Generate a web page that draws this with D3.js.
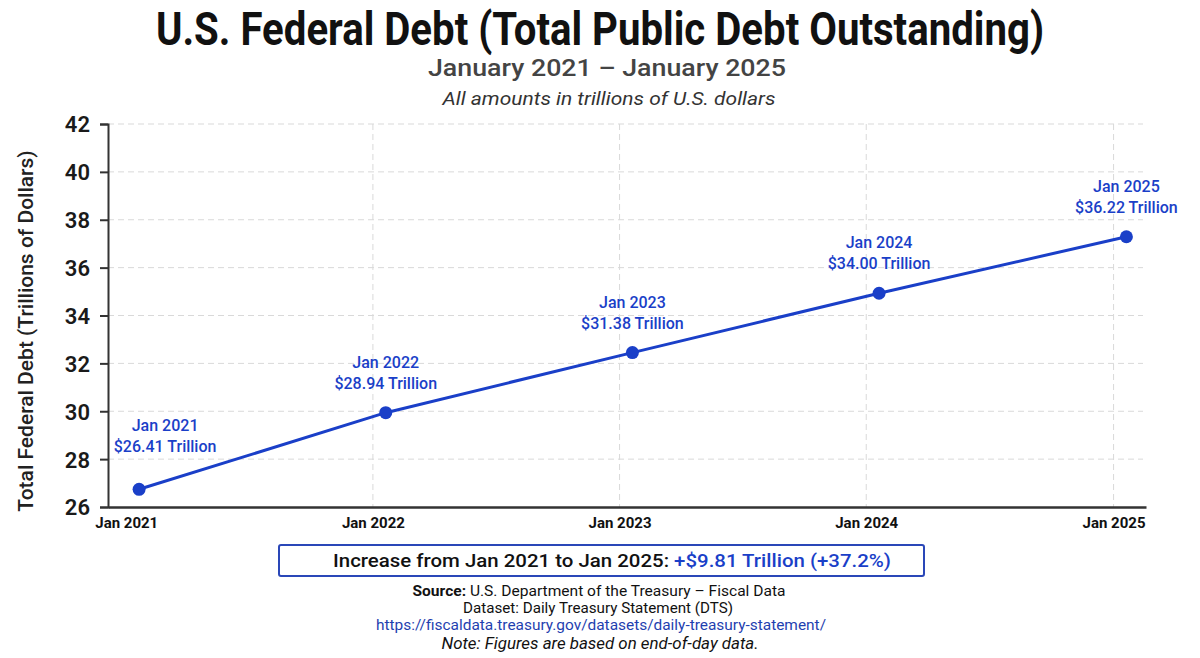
<!DOCTYPE html>
<html>
<head>
<meta charset="utf-8">
<script src="https://cdn.jsdelivr.net/npm/d3@7"></script>
<style>
  body { margin: 0; background: #fff; }
  svg { display: block; font-family: Roboto, "Noto Sans", sans-serif; }
</style>
</head>
<body>
<div id="chart-area"></div>
<script>
// data
var monthLabels = ["Jan 2021", "Jan 2022", "Jan 2023", "Jan 2024", "Jan 2025"];
var pointDates = ["2021-01-20", "2022-01-20", "2023-01-20", "2024-01-20", "2025-01-20"];
var debtPlotted = [26.74, 29.94, 32.45, 34.93, 37.29];   // where the dots sit
var debtLabels = [26.41, 28.94, 31.38, 34.00, 36.22];    // what the labels say
var tickDates = ["2021-01-01", "2022-01-01", "2023-01-01", "2024-01-01", "2025-01-01"];
var yTicks = [26, 28, 30, 32, 34, 36, 38, 40, 42];
var summaryParts = ["Increase from Jan 2021 to Jan 2025: ", "+$9.81 Trillion (+37.2%)"];

var W = 1200, H = 658;
var margin = { left: 108, right: 54, top: 124, bottom: 151 };
var blue = "#1a3fc8";
var parse = d3.timeParse("%Y-%m-%d");

var svg = d3.select("#chart-area").append("svg")
  .attr("width", W).attr("height", H);

// scales
var x = d3.scaleTime()
  .domain([parse("2020-12-05"), parse("2025-02-18")])
  .range([margin.left, W - margin.right]);
var y = d3.scaleLinear()
  .domain([26, 42])
  .range([H - margin.bottom, margin.top]);

var data = pointDates.map(function(d, i) {
  return { date: parse(d), v: debtPlotted[i], label: debtLabels[i], month: monthLabels[i] };
});

// titles
svg.append("text")
  .attr("x", 600).attr("y", 45)
  .attr("text-anchor", "middle")
  .attr("font-size", 46).attr("font-weight", 700)
  .attr("fill", "#111")
  .attr("textLength", 888).attr("lengthAdjust", "spacingAndGlyphs")
  .text("U.S. Federal Debt (Total Public Debt Outstanding)");

svg.append("text")
  .attr("x", 607).attr("y", 76)
  .attr("text-anchor", "middle")
  .attr("font-size", 24).attr("font-weight", 500)
  .attr("fill", "#444")
  .attr("textLength", 358).attr("lengthAdjust", "spacingAndGlyphs")
  .text("January 2021 \u2013 January 2025");

svg.append("text")
  .attr("x", 609).attr("y", 105)
  .attr("text-anchor", "middle")
  .attr("font-size", 18).attr("font-style", "italic")
  .attr("fill", "#333")
  .attr("textLength", 333).attr("lengthAdjust", "spacingAndGlyphs")
  .text("All amounts in trillions of U.S. dollars");

// grid
var grid = svg.append("g").attr("class", "grid");
grid.selectAll("line.h")
  .data(yTicks.filter(function(d) { return d > 26; }))
  .enter().append("line")
  .attr("class", "h")
  .attr("x1", margin.left).attr("x2", W - margin.right - 3)
  .attr("y1", function(d) { return y(d); })
  .attr("y2", function(d) { return y(d); })
  .attr("stroke", "#d9d9d9").attr("stroke-dasharray", "6,4");

grid.selectAll("line.v")
  .data(tickDates.slice(1))
  .enter().append("line")
  .attr("class", "v")
  .attr("x1", function(d) { return x(parse(d)); })
  .attr("x2", function(d) { return x(parse(d)); })
  .attr("y1", margin.top).attr("y2", H - margin.bottom)
  .attr("stroke", "#d9d9d9").attr("stroke-dasharray", "6,4");

// axes
var yAxis = svg.append("g")
  .attr("transform", "translate(" + margin.left + ",0)")
  .call(d3.axisLeft(y).tickValues(yTicks).tickSize(8).tickPadding(10));
yAxis.select(".domain").attr("stroke", "#333").attr("stroke-width", 2);
yAxis.selectAll(".tick line").attr("stroke", "#333").attr("stroke-width", 2);
yAxis.selectAll(".tick text")
  .attr("font-size", 22).attr("font-weight", 600)
  .attr("fill", "#1a1a1a").attr("font-family", "Roboto, sans-serif")
  .attr("dy", "0.36em");

var xAxis = svg.append("g")
  .attr("transform", "translate(0," + (H - margin.bottom) + ")")
  .call(d3.axisBottom(x)
    .tickValues(tickDates.map(parse))
    .tickSize(0).tickPadding(10)
    .tickFormat(d3.timeFormat("Jan %Y")));
xAxis.select(".domain").attr("stroke", "#333").attr("stroke-width", 2.5);
xAxis.selectAll(".tick text")
  .attr("font-size", 15).attr("font-weight", 700)
  .attr("fill", "#111").attr("font-family", "Roboto, sans-serif");

// y axis label
svg.append("text")
  .attr("transform", "translate(33,331) rotate(-90)")
  .attr("text-anchor", "middle")
  .attr("font-size", 21).attr("font-weight", 500)
  .attr("fill", "#222")
  .text("Total Federal Debt (Trillions of Dollars)");

// line + dots
var line = d3.line()
  .x(function(d) { return x(d.date); })
  .y(function(d) { return y(d.v); });

svg.append("path")
  .datum(data)
  .attr("d", line)
  .attr("fill", "none")
  .attr("stroke", blue)
  .attr("stroke-width", 3);

svg.selectAll("circle.pt")
  .data(data)
  .enter().append("circle")
  .attr("class", "pt")
  .attr("cx", function(d) { return x(d.date); })
  .attr("cy", function(d) { return y(d.v); })
  .attr("r", 6.5)
  .attr("fill", blue);

// point labels, the first one sits off to the right in the original
var fmt = d3.format(".2f");
var labels = svg.selectAll("g.lbl")
  .data(data)
  .enter().append("g")
  .attr("class", "lbl")
  .attr("transform", function(d, i) {
    var dx = i === 0 ? 26 : 0, dy = i === 0 ? -13 : 0;
    return "translate(" + (x(d.date) + dx) + "," + (y(d.v) + dy) + ")";
  });
labels.append("text")
  .attr("y", -45)
  .attr("text-anchor", "middle")
  .attr("font-size", 16).attr("font-weight", 500)
  .attr("fill", blue)
  .text(function(d) { return d.month; });
labels.append("text")
  .attr("y", -24)
  .attr("text-anchor", "middle")
  .attr("font-size", 16).attr("font-weight", 500)
  .attr("fill", blue)
  .text(function(d) { return "$" + fmt(d.label) + " Trillion"; });

// summary box
svg.append("rect")
  .attr("x", 279).attr("y", 545)
  .attr("width", 645).attr("height", 31)
  .attr("rx", 2)
  .attr("fill", "#fff")
  .attr("stroke", "#2a47b8").attr("stroke-width", 2);

var boxText = svg.append("text")
  .attr("x", 612).attr("y", 567)
  .attr("text-anchor", "middle")
  .attr("font-size", 19).attr("font-weight", 500)
  .attr("textLength", 558).attr("lengthAdjust", "spacingAndGlyphs");
boxText.append("tspan").attr("fill", "#111").text(summaryParts[0]);
boxText.append("tspan").attr("fill", blue).text(summaryParts[1]);

// source notes
var src = svg.append("text")
  .attr("x", 599).attr("y", 596)
  .attr("text-anchor", "middle")
  .attr("font-size", 15).attr("fill", "#111")
  .attr("textLength", 373).attr("lengthAdjust", "spacingAndGlyphs");
src.append("tspan").attr("font-weight", 700).text("Source:");
src.append("tspan").text(" U.S. Department of the Treasury \u2013 Fiscal Data");

svg.append("text")
  .attr("x", 598).attr("y", 613)
  .attr("text-anchor", "middle")
  .attr("font-size", 15).attr("fill", "#111")
  .attr("textLength", 270).attr("lengthAdjust", "spacingAndGlyphs")
  .text("Dataset: Daily Treasury Statement (DTS)");

svg.append("text")
  .attr("x", 601).attr("y", 630)
  .attr("text-anchor", "middle")
  .attr("font-size", 15).attr("fill", "#1f3fb0")
  .attr("textLength", 450).attr("lengthAdjust", "spacingAndGlyphs")
  .text("https://fiscaldata.treasury.gov/datasets/daily-treasury-statement/");

svg.append("text")
  .attr("x", 600).attr("y", 649)
  .attr("text-anchor", "middle")
  .attr("font-size", 16).attr("font-style", "italic").attr("fill", "#111")
  .attr("textLength", 317).attr("lengthAdjust", "spacingAndGlyphs")
  .text("Note: Figures are based on end-of-day data.");
</script>
</body>
</html>
